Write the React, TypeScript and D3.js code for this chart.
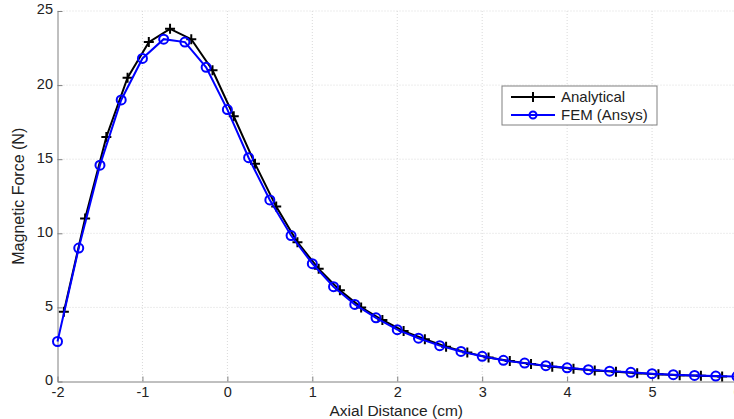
import React, { useRef, useEffect } from 'react';
import * as d3 from 'd3';

// FEM samples every 0.25 cm from -2 to 6
const femX = d3.range(0, 33).map(i => -2 + i * 0.25);
const femForce = [
  2.7, 9.0, 14.6, 19.0, 21.8, 23.1, 22.9, 21.2, 18.35, 15.1, 12.25, 9.85, 7.95,
  6.4, 5.2, 4.3, 3.5, 2.92, 2.42, 2.03, 1.7, 1.43, 1.24, 1.07, 0.92, 0.8, 0.7,
  0.62, 0.53, 0.46, 0.41, 0.37, 0.34
];

// analytical samples, shifted slightly from the FEM grid
const anaX = d3.range(0, 32).map(i => -1.925 + i * 0.25);
const anaForce = [
  4.7, 11.0, 16.5, 20.5, 22.9, 23.8, 23.1, 21.0, 17.9, 14.7, 11.8, 9.4, 7.6,
  6.15, 5.0, 4.15, 3.4, 2.85, 2.35, 1.95, 1.62, 1.38, 1.18, 1.0, 0.86, 0.75,
  0.65, 0.56, 0.49, 0.43, 0.38, 0.33
];

const xTicks = [-2, -1, 0, 1, 2, 3, 4, 5, 6];
const yTicks = [0, 5, 10, 15, 20, 25];
const seriesNames = ['Analytical', 'FEM (Ansys)'];

const W = 734;
const H = 419;
const FONT = '"Liberation Sans", Arial, sans-serif';

export default function App() {
  const svgRef = useRef<SVGSVGElement>(null);

  useEffect(() => {
    const svg = d3.select(svgRef.current);
    svg.selectAll('*').remove();

    const x = d3.scaleLinear().domain([-2, 6]).range([57.5, 737]);
    const y = d3.scaleLinear().domain([0, 25]).range([381.5, 11]);

    // grid
    const grid = svg.append('g').attr('stroke', '#d9d9d9').attr('stroke-width', 1).attr('stroke-dasharray', '1,2');
    grid.selectAll('line.v')
      .data(xTicks.slice(1))
      .enter()
      .append('line')
      .attr('x1', d => x(d)).attr('x2', d => x(d))
      .attr('y1', y(25)).attr('y2', y(0));
    grid.selectAll('line.h')
      .data(yTicks.slice(1))
      .enter()
      .append('line')
      .attr('x1', x(-2)).attr('x2', x(6))
      .attr('y1', d => y(d)).attr('y2', d => y(d));

    // axes (ticks pointing inward, plain hyphen minus like the source)
    const fmt = (d: d3.NumberValue) => String(d);
    const xAxis = d3.axisBottom(x).tickValues(xTicks).tickFormat(fmt).tickSize(-5).tickPadding(5).tickSizeOuter(0);
    const yAxis = d3.axisLeft(y).tickValues(yTicks).tickFormat(fmt).tickSize(-5).tickPadding(4.5).tickSizeOuter(0);

    const gx = svg.append('g').attr('transform', `translate(0,${y(0)})`).call(xAxis);
    const gy = svg.append('g').attr('transform', `translate(${x(-2)},0)`).call(yAxis);
    [gx, gy].forEach(g => {
      g.select('.domain').attr('stroke', '#808080');
      g.selectAll('.tick line').attr('stroke', '#808080');
      g.selectAll('text')
        .attr('fill', '#222')
        .attr('font-family', FONT)
        .attr('font-size', 14.5);
    });
    gy.selectAll('text').attr('dy', '0.2em');

    // axis labels
    svg.append('text')
      .attr('x', (x(-2) + x(6)) / 2 - 1)
      .attr('y', 415.5)
      .attr('text-anchor', 'middle')
      .attr('font-family', FONT)
      .attr('font-size', 15.5)
      .attr('fill', '#222')
      .text('Axial Distance (cm)');
    svg.append('text')
      .attr('transform', `translate(24,${(y(0) + y(25)) / 2}) rotate(-90)`)
      .attr('text-anchor', 'middle')
      .attr('font-family', FONT)
      .attr('font-size', 16)
      .attr('fill', '#222')
      .text('Magnetic Force (N)');

    const lineGen = d3.line<[number, number]>().x(d => x(d[0])).y(d => y(d[1]));
    const anaPts: [number, number][] = anaX.map((v, i) => [v, anaForce[i]]);
    const femPts: [number, number][] = femX.map((v, i) => [v, femForce[i]]);

    // analytical
    svg.append('path')
      .datum(anaPts)
      .attr('fill', 'none')
      .attr('stroke', '#000')
      .attr('stroke-width', 2)
      .attr('d', lineGen);
    svg.append('g')
      .selectAll('path')
      .data(anaPts)
      .enter()
      .append('path')
      .attr('d', d => `M${x(d[0]) - 5},${y(d[1])}H${x(d[0]) + 5}M${x(d[0])},${y(d[1]) - 5}V${y(d[1]) + 5}`)
      .attr('stroke', '#000')
      .attr('stroke-width', 2);

    // FEM
    svg.append('path')
      .datum(femPts)
      .attr('fill', 'none')
      .attr('stroke', '#0000ff')
      .attr('stroke-width', 2)
      .attr('d', lineGen);
    svg.append('g')
      .selectAll('circle')
      .data(femPts)
      .enter()
      .append('circle')
      .attr('cx', d => x(d[0]))
      .attr('cy', d => y(d[1]))
      .attr('r', 4.5)
      .attr('fill', 'none')
      .attr('stroke', '#0000ff')
      .attr('stroke-width', 2);

    // legend
    const lg = svg.append('g').attr('transform', 'translate(502,86)');
    lg.append('rect')
      .attr('width', 155)
      .attr('height', 39)
      .attr('fill', '#fff')
      .attr('stroke', '#808080')
      .attr('stroke-width', 1);
    seriesNames.forEach((name, i) => {
      const cy = 11 + i * 18;
      const color = i === 0 ? '#000' : '#0000ff';
      lg.append('line')
        .attr('x1', 9).attr('x2', 53)
        .attr('y1', cy).attr('y2', cy)
        .attr('stroke', color)
        .attr('stroke-width', 2);
      if (i === 0) {
        lg.append('path')
          .attr('d', `M31,${cy - 5}V${cy + 5}`)
          .attr('stroke', color)
          .attr('stroke-width', 2);
      } else {
        lg.append('circle')
          .attr('cx', 31).attr('cy', cy).attr('r', 3.5)
          .attr('fill', 'none')
          .attr('stroke', color)
          .attr('stroke-width', 2);
      }
      lg.append('text')
        .attr('x', 59)
        .attr('y', cy + 5)
        .attr('font-family', FONT)
        .attr('font-size', 15)
        .attr('fill', '#222')
        .text(name);
    });
  }, []);

  return (
    <svg
      ref={svgRef}
      width={W}
      height={H}
      style={{ position: 'absolute', left: 0, top: 0, background: '#fff' }}
    />
  );
}
